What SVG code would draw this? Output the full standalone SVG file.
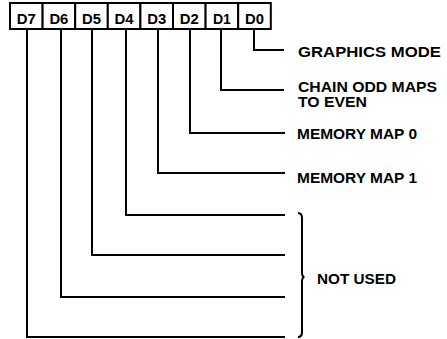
<svg xmlns="http://www.w3.org/2000/svg" width="447" height="339" viewBox="0 0 447 339">
<style>
.box{fill:#fff;stroke:#000;stroke-width:2}
.bt{font-family:"Liberation Sans",Arial,sans-serif;font-weight:bold;font-size:15.5px;text-anchor:middle;fill:#000}
.lb{font-family:"Liberation Sans",Arial,sans-serif;font-weight:bold;font-size:14px;fill:#000}
.ln{fill:none;stroke:#000;stroke-width:2}
</style>
<rect width="447" height="339" fill="#fff"/>
<g id="D7"><rect class="box" x="10" y="3" width="32.6" height="26"/><text class="bt" x="26.3" y="24" textLength="19" lengthAdjust="spacingAndGlyphs">D7</text></g>
<g id="D6"><rect class="box" x="42.6" y="3" width="32.6" height="26"/><text class="bt" x="58.9" y="24" textLength="19" lengthAdjust="spacingAndGlyphs">D6</text></g>
<g id="D5"><rect class="box" x="75.2" y="3" width="32.6" height="26"/><text class="bt" x="91.5" y="24" textLength="19" lengthAdjust="spacingAndGlyphs">D5</text></g>
<g id="D4"><rect class="box" x="107.8" y="3" width="32.6" height="26"/><text class="bt" x="124.1" y="24" textLength="19" lengthAdjust="spacingAndGlyphs">D4</text></g>
<g id="D3"><rect class="box" x="140.4" y="3" width="32.6" height="26"/><text class="bt" x="156.7" y="24" textLength="19" lengthAdjust="spacingAndGlyphs">D3</text></g>
<g id="D2"><rect class="box" x="173" y="3" width="32.6" height="26"/><text class="bt" x="189.3" y="24" textLength="19" lengthAdjust="spacingAndGlyphs">D2</text></g>
<g id="D1"><rect class="box" x="205.6" y="3" width="32.6" height="26"/><text class="bt" x="221.9" y="24" textLength="18" lengthAdjust="spacingAndGlyphs">D1</text></g>
<g id="D0"><rect class="box" x="238.2" y="3" width="32.6" height="26"/><text class="bt" x="254.5" y="24" textLength="19" lengthAdjust="spacingAndGlyphs">D0</text></g>
<g id="connectors">
<path class="ln" d="M254 30 V50 H284"/>
<path class="ln" d="M221 30 V90 H284"/>
<path class="ln" d="M190 30 V133 H285"/>
<path class="ln" d="M158 30 V173 H285"/>
<path class="ln" d="M126 30 V215 H285"/>
<path class="ln" d="M92 30 V255 H285"/>
<path class="ln" d="M61 30 V297 H285"/>
<path class="ln" d="M27 30 V337 H285"/>
<path class="ln" d="M298 213 Q302 213 302 218 V272 Q302 277 304.5 277 Q302 277 302 282 V332 Q302 337 298 337" stroke-width="1.8"/>
</g>
<g id="labels">
<text class="lb" x="298" y="57" textLength="143" lengthAdjust="spacingAndGlyphs">GRAPHICS MODE</text>
<text class="lb" x="298" y="92" textLength="139" lengthAdjust="spacingAndGlyphs">CHAIN ODD MAPS</text>
<text class="lb" x="298" y="107" textLength="69" lengthAdjust="spacingAndGlyphs">TO EVEN</text>
<text class="lb" x="297" y="139" textLength="120" lengthAdjust="spacingAndGlyphs">MEMORY MAP 0</text>
<text class="lb" x="297" y="183" textLength="120" lengthAdjust="spacingAndGlyphs">MEMORY MAP 1</text>
<text class="lb" x="317" y="284" textLength="79" lengthAdjust="spacingAndGlyphs">NOT USED</text>
</g>
</svg>
